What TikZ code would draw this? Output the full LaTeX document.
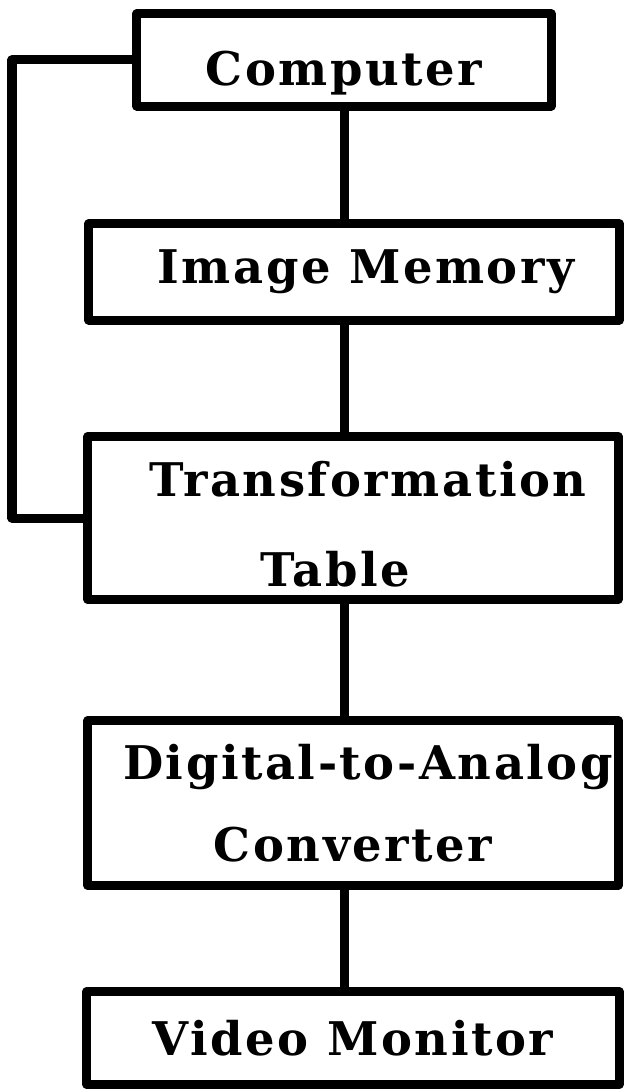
\documentclass[tikz,border=0pt]{standalone}
\usepackage{fontspec}
\setmainfont{DejaVu Serif}[LetterSpace=5.5]
\usetikzlibrary{positioning}
\tikzset{
    unit/.style={rectangle, draw, line width=0.225cm, line join=round, align=center, inner sep=0pt, font=\fontsize{33}{58}\selectfont\bfseries},
    link/.style={line width=0.225cm, line join=round}
}

\begin{document}
\begin{tikzpicture}[x=0.025cm, y=-0.025cm]
    \useasboundingbox (0,0) rectangle (624,1090);
    % Display chain
    \node[unit, minimum width=10.35cm, minimum height=2.3cm] (comp) at (344,60) {\rule{0pt}{1.5cm}Computer};
    \node[unit, minimum width=13.25cm, minimum height=2.4cm] (mem) at (354,272) {\hspace*{0.6cm}Image Memory};
    \node[unit, minimum width=13.25cm, minimum height=4.075cm] (tab) at (353,518) {\rule{0pt}{1.18cm}\hspace*{0.75cm}Transformation\\[0.2cm]Table\hspace*{0.9cm}};
    \node[unit, minimum width=13.25cm, minimum height=4.125cm] (dac) at (353,803) {\hspace*{0.75cm}Digital-to-Analog\\Converter};
    \node[unit, minimum width=13.3cm, minimum height=2.325cm] (mon) at (353,1038) {Video Monitor};
    \draw[link] (comp.south) -- (mem.north -| comp.south);
    \draw[link] (mem.south -| comp.south) -- (tab.north -| comp.south);
    \draw[link] (tab.south -| comp.south) -- (dac.north -| comp.south);
    \draw[link] (dac.south -| comp.south) -- (mon.north -| comp.south);
    % Feedback loop
    \coordinate (loopx) at (12,0);
    \draw[link] (comp.west) -| (loopx |- tab.west) -- (tab.west);
\end{tikzpicture}
\end{document}
